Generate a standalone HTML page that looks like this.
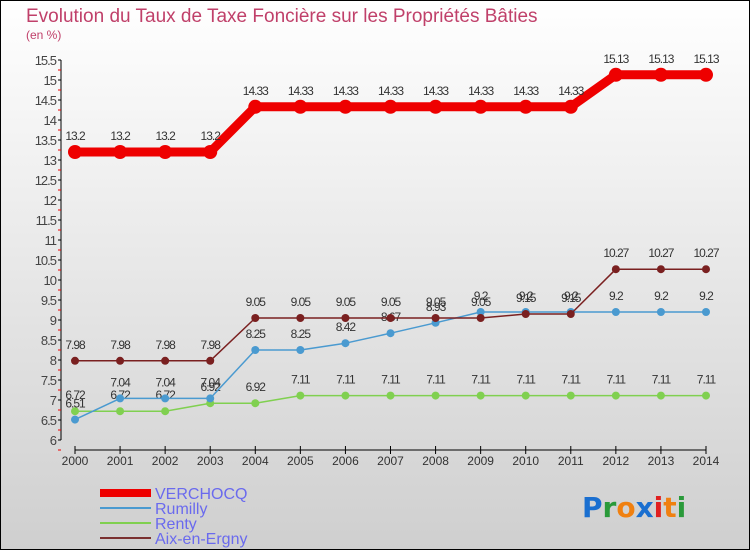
<!DOCTYPE html>
<html><head><meta charset="utf-8"><style>
body{margin:0;width:750px;height:550px;overflow:hidden;font-family:"Liberation Sans",sans-serif}
svg{display:block}
</style></head><body>
<svg id="c" width="750" height="550" xmlns="http://www.w3.org/2000/svg">
<defs><linearGradient id="bg" x1="0" y1="0" x2="0" y2="1"><stop offset="0" stop-color="#ffffff"/><stop offset="1" stop-color="#cfcfcf"/></linearGradient></defs>
<rect x="0.5" y="0.5" width="749" height="549" fill="url(#bg)" stroke="#000"/>
<text x="26" y="22" font-size="19" fill="#c0406a">Evolution du Taux de Taxe Foncière sur les Propriétés Bâties</text>
<text x="26" y="39" font-size="12" fill="#c0406a">(en %)</text>
<g id="axes"></g><g id="series"></g>
<g>
<rect x="100" y="489" width="51" height="8" fill="#ee0000"/>
<text x="155" y="499" font-size="16" fill="#6a6aee">VERCHOCQ</text>
<line x1="100" y1="508" x2="151" y2="508" stroke="#4a9ad0" stroke-width="2"/>
<text x="155" y="514" font-size="16" fill="#6a6aee">Rumilly</text>
<line x1="100" y1="523" x2="151" y2="523" stroke="#80d050" stroke-width="2"/>
<text x="155" y="529" font-size="16" fill="#6a6aee">Renty</text>
<line x1="100" y1="538" x2="151" y2="538" stroke="#7a3030" stroke-width="2"/>
<text x="155" y="544" font-size="16" fill="#6a6aee">Aix-en-Ergny</text>
</g>
<text x="582" y="517" font-size="28" font-family="'DejaVu Sans',sans-serif" font-weight="bold"><tspan fill="#1a6fd0">P</tspan><tspan fill="#2a9a3a">r</tspan><tspan fill="#f08010">o</tspan><tspan fill="#1a6fd0">x</tspan><tspan fill="#e02020">i</tspan><tspan fill="#f08010">t</tspan><tspan fill="#2a9a3a">i</tspan></text>
</svg>
<script>
const years=[2000,2001,2002,2003,2004,2005,2006,2007,2008,2009,2010,2011,2012,2013,2014];
const verchocq=[13.2,13.2,13.2,13.2,14.33,14.33,14.33,14.33,14.33,14.33,14.33,14.33,15.13,15.13,15.13];
const rumilly=[6.51,7.04,7.04,7.04,8.25,8.25,8.42,8.67,8.93,9.2,9.2,9.2,9.2,9.2,9.2];
const renty=[6.72,6.72,6.72,6.92,6.92,7.11,7.11,7.11,7.11,7.11,7.11,7.11,7.11,7.11,7.11];
const aix=[7.98,7.98,7.98,7.98,9.05,9.05,9.05,9.05,9.05,9.05,9.15,9.15,10.27,10.27,10.27];
const yTicks=[6,6.5,7,7.5,8,8.5,9,9.5,10,10.5,11,11.5,12,12.5,13,13.5,14,14.5,15,15.5];
const NS="http://www.w3.org/2000/svg";
const X=i=>75+i*(706-75)/(years.length-1);
const Y=v=>60+(15.5-v)*40;
function mk(t,a,p){const e=document.createElementNS(NS,t);for(const k in a)e.setAttribute(k,a[k]);p.appendChild(e);return e;}
const ax=document.getElementById('axes');
let yl=mk('line',{x1:61,y1:Y(15.5),x2:61,y2:Y(6),stroke:'#000'},ax);


yTicks.forEach(v=>{
 mk('line',{x1:58,y1:Y(v),x2:61,y2:Y(v),stroke:'#000'},ax);
 mk('line',{x1:58,y1:Y(v)+10,x2:61,y2:Y(v)+10,stroke:'#e00'},ax);
 const t=mk('text',{x:56,y:Y(v)+5,'font-size':13,'text-anchor':'end',fill:'#444','letter-spacing':'-1'},ax);t.textContent=v;
 
 
});
let xl=mk('line',{x1:X(0),y1:450,x2:X(14),y2:450,stroke:'#000'},ax);


years.forEach((y,i)=>{
 mk('line',{x1:X(i),y1:446,x2:X(i),y2:454,stroke:'#000'},ax);
 const t=mk('text',{x:X(i),y:465,'font-size':12,'text-anchor':'middle',fill:'#333'},ax);t.textContent=y;
 
 
});
const sg=document.getElementById('series');
function draw(vals,color,w,r,name){
 const g=mk('g',{},sg);
 
 
 mk('polyline',{points:vals.map((v,i)=>X(i)+','+Y(v)).join(' '),fill:'none',stroke:color,'stroke-width':w,'stroke-linejoin':'round'},g);
 vals.forEach((v,i)=>{
  const c=mk('circle',{cx:X(i),cy:Y(v),r:r,fill:color},g);
  
  
  const t=mk('text',{x:X(i),y:Y(v)-12,'font-size':12,'text-anchor':'middle',fill:'#333','letter-spacing':'-1'},g);t.textContent=v;
  
  
 });
}
draw(renty,'#80d050',1.5,4,'renty');
draw(rumilly,'#4a9ad0',1.5,4,'rumilly');
draw(aix,'#7a2020',1.5,4,'aix-en-ergny');
draw(verchocq,'#ee0000',9,7,'verchocq');
</script>
</body></html>
